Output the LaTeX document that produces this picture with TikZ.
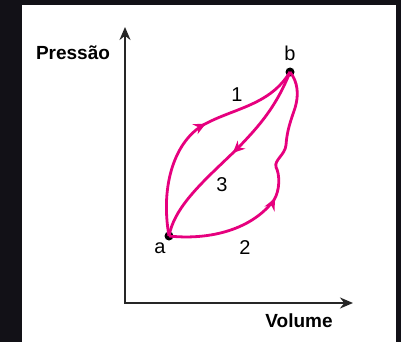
\documentclass[tikz,border=0pt]{standalone}
\usepackage{fontspec}
\setmainfont{Liberation Sans}
\usetikzlibrary{arrows.meta,decorations.markings}
\definecolor{bgdark}{HTML}{121117}
\definecolor{mag}{HTML}{E6007E}
\tikzset{
  curve/.style={draw=mag,line width=2.8pt},
  dot/.style={circle,fill=black,inner sep=0pt,minimum size=9pt},
  lbl/.style={font=\fontsize{20}{22}\selectfont,inner sep=0pt},
  axlbl/.style={font=\fontsize{19}{21}\selectfont\bfseries,inner sep=0pt},
  axis/.style={draw=black!85,line width=1.9pt,{Stealth[length=13pt,width=11pt]}-{Stealth[length=13pt,width=11pt]}},
  markat/.style={postaction={decorate},decoration={markings,mark=at position #1 with {\arrow{Stealth[length=12pt,width=11pt]}}}}
}
\begin{document}
\begin{tikzpicture}[x=1pt,y=-1pt]
\useasboundingbox (0,0) rectangle (401,342);
\fill[bgdark] (0,0) rectangle (401,342);
\fill[white] (22,5) rectangle (396,342);
% axes
\coordinate (O) at (125,303);
\coordinate (Ytip) at (125,27);
\coordinate (Xtip) at (353,303);
\draw[axis] (Ytip) -- (O) -- (Xtip);
\node[axlbl] (pres) at (73,53) {Pressão};
\node[axlbl] (vol) at (299,321) {Volume};
% points
\node[dot] (a) at (169,236) {};
\node[dot] (b) at (290,72) {};
\node[lbl] (la) at (160,248) {a};
\node[lbl] (lb) at (290,53) {b};
% curves
\draw[curve,markat=126pt] (a.center) .. controls (160,185) and (175,140) .. (205,124)
   .. controls (235,108) and (270,105) .. (b.center);
\draw[curve,markat=100pt] (b.center) .. controls (275,110) and (255,130) .. (238,148)
   .. controls (205,180) and (175,205) .. (a.center);
\draw[curve,markat=118pt] (a.center) .. controls (205,240) and (250,232) .. (274,200)
   .. controls (280,190) and (280,175) .. (276,167)
   .. controls (274,160) and (285,155) .. (286,145)
   .. controls (287,130) and (291,120) .. (295,108)
   .. controls (299,95) and (298,82) .. (b.center);
\node[lbl] (n1) at (237,95) {1};
\node[lbl] (n2) at (245,248) {2};
\node[lbl] (n3) at (222,185) {3};
\end{tikzpicture}
\end{document}
